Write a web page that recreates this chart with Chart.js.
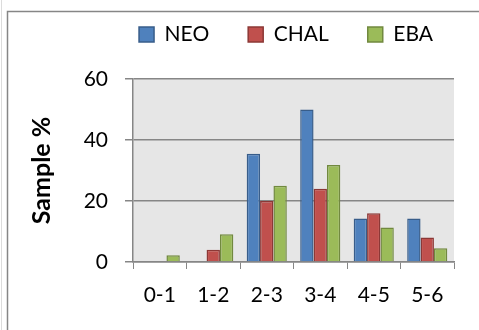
<!DOCTYPE html>
<html>
<head>
<meta charset="utf-8">
<script src="https://cdn.jsdelivr.net/npm/chart.js@4"></script>
<style>
  body { margin: 0; background: #fff; }
  #wrap { width: 479px; height: 330px; position: relative; }
</style>
</head>
<body>
<div id="wrap"><canvas id="myChart" width="479" height="330"></canvas></div>
<script>
var categories = ['0-1', '1-2', '2-3', '3-4', '4-5', '5-6'];
var neo = [0, 0, 35.5, 50, 14.3, 14.3];
var chal = [0, 4, 20, 24, 16, 8];
var eba = [2.2, 9.1, 25, 31.8, 11.3, 4.5];
var yTicks = [0, 20, 40, 60];

var fontName = 'Lato';
var gray = '#868686';

// frame round the chart + grey plot background
var framePlugin = {
    id: 'frame',
    beforeDraw: function (chart) {
        var c = chart.ctx;
        var a = chart.chartArea;
        c.save();
        c.fillStyle = '#e6e6e6';
        c.fillRect(a.left, a.top, a.right - a.left, a.bottom - a.top);
        c.strokeStyle = '#dcdcdc';
        c.lineWidth = 1;
        c.beginPath();
        c.moveTo(1.5, 0);
        c.lineTo(1.5, 330);
        c.stroke();
        c.strokeStyle = gray;
        c.lineWidth = 1.5;
        c.beginPath();
        c.moveTo(7.5, 330);
        c.lineTo(7.5, 11.5);
        c.lineTo(479, 11.5);
        c.stroke();
        c.restore();
    }
};

// legend: fixed height, nudged to the right like the original
var legendSpace = {
    id: 'legendSpace',
    beforeInit: function (chart) {
        var fit = chart.legend.fit;
        chart.legend.fit = function () {
            fit.bind(chart.legend)();
            this.height = 94;
        };
    },
    afterLayout: function (chart) {
        chart.legend.left += 59;
        chart.legend.right += 59;
    }
};

var ctx = document.getElementById('myChart').getContext('2d');
var myChart = new Chart(ctx, {
    type: 'bar',
    data: {
        labels: categories,
        datasets: [
            { label: 'NEO', data: neo, backgroundColor: '#4f81bd', borderColor: '#385d8a', borderWidth: 1.5 },
            { label: 'CHAL', data: chal, backgroundColor: '#c0504d', borderColor: '#8c3836', borderWidth: 1.5 },
            { label: 'EBA', data: eba, backgroundColor: '#9bbb59', borderColor: '#71893f', borderWidth: 1.5 }
        ]
    },
    options: {
        responsive: false,
        animation: false,
        layout: { padding: { top: -15, left: 0, right: 25, bottom: 0 } },
        datasets: { bar: { categoryPercentage: 0.75, barPercentage: 1 } },
        plugins: {
            legend: {
                position: 'top',
                labels: {
                    boxWidth: 15,
                    boxHeight: 15,
                    padding: 39,
                    color: '#000',
                    font: { family: fontName, size: 21 }
                }
            },
            tooltip: { enabled: false }
        },
        scales: {
            x: {
                grid: { drawOnChartArea: false, color: gray, tickLength: 7, offset: true },
                border: { color: gray, width: 1.5 },
                ticks: { color: '#000', padding: 14, font: { family: fontName, size: 21 } },
                afterFit: function (s) { s.height = 68; }
            },
            y: {
                min: 0,
                max: 60,
                afterBuildTicks: function (s) {
                    s.ticks = yTicks.map(function (v) { return { value: v }; });
                },
                grid: { color: gray, lineWidth: 1.5, tickLength: 8 },
                border: { color: gray, width: 1.5 },
                ticks: { color: '#000', padding: 17, font: { family: fontName, size: 21 } },
                title: {
                    display: true,
                    text: 'Sample %',
                    color: '#000',
                    padding: { top: 27, bottom: 0 },
                    font: { family: fontName, size: 25, weight: 'bold' }
                },
                afterFit: function (s) { s.width = 133; }
            }
        }
    },
    plugins: [framePlugin, legendSpace]
});
</script>
</body>
</html>
